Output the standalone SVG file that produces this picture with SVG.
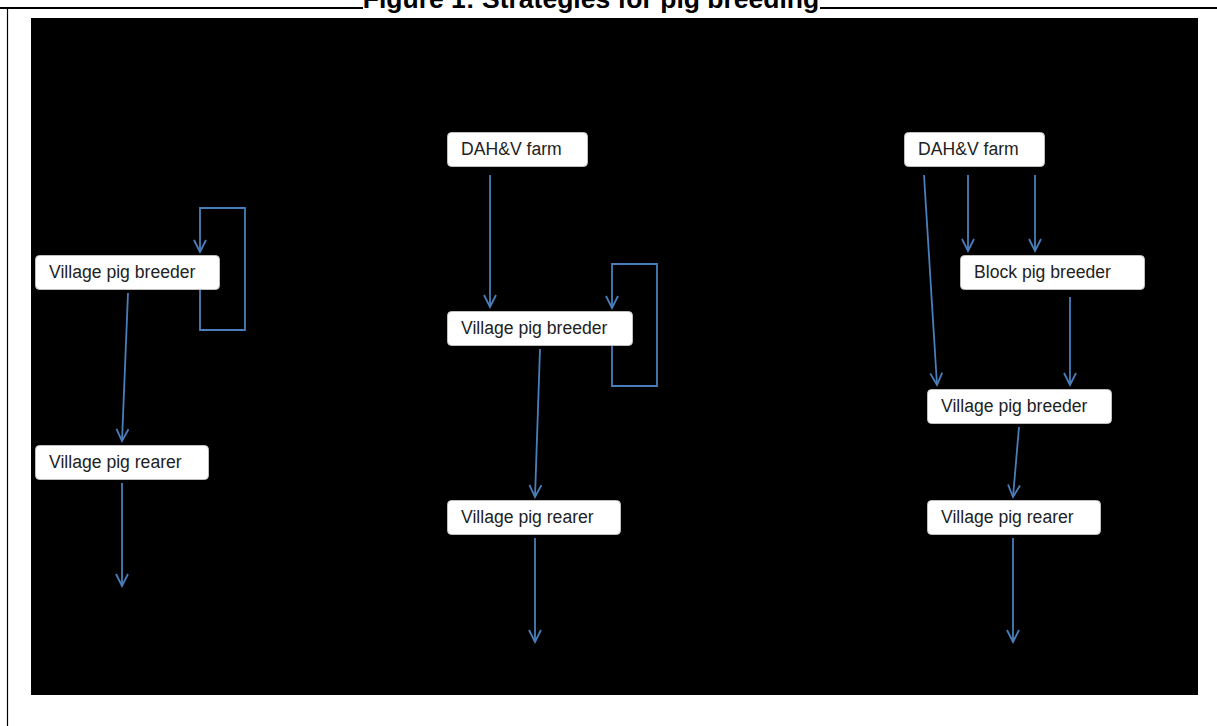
<svg xmlns="http://www.w3.org/2000/svg" width="1217" height="726" viewBox="0 0 1217 726">
  <defs>
    <marker id="arrow" markerUnits="userSpaceOnUse" markerWidth="16" markerHeight="16" refX="13" refY="7" orient="auto">
      <path d="M1,1 L13,7 L1,13" fill="none" stroke="#4a7ebb" stroke-width="1.8"/>
    </marker>
    <style>
      .frame { stroke: #000; fill: none; }
      .node rect { fill: #fff; stroke: #bfbfbf; stroke-width: 1; }
      .node text { font-family: "Liberation Sans", Arial, sans-serif; font-size: 17.6px; fill: #222; }
      .link { fill: none; stroke: #4a7ebb; stroke-width: 1.8; marker-end: url(#arrow); }
      .title { font-family: "Liberation Sans", Arial, sans-serif; font-weight: bold; font-size: 26.5px; fill: #000; }
    </style>
  </defs>

  <rect width="1217" height="726" fill="#fff"/>

  <!-- page frame with the caption sitting on its top edge -->
  <line class="frame" x1="0" y1="8" x2="363" y2="8" stroke-width="2"/>
  <line class="frame" x1="820" y1="8" x2="1217" y2="8" stroke-width="2"/>
  <line class="frame" x1="7.5" y1="8" x2="7.5" y2="726" stroke-width="1.2"/>
  <text class="title" x="591" y="7.5" text-anchor="middle">Figure 1: Strategies for pig breeding</text>

  <!-- drawing area -->
  <rect x="31" y="18" width="1167" height="677" fill="#000"/>

  <!-- connectors -->
  <g id="connectors">
    <!-- strategy 1 -->
    <path class="link" d="M200,287 V330 H245 V208 H200 V252"/>
    <path class="link" d="M128,293 L122,441"/>
    <path class="link" d="M122,483 V586"/>
    <!-- strategy 2 -->
    <path class="link" d="M490,175 V307"/>
    <path class="link" d="M612,342 V386 H657 V264 H612 V308"/>
    <path class="link" d="M540,349 L535,497"/>
    <path class="link" d="M535,538 V642"/>
    <!-- strategy 3 -->
    <path class="link" d="M924,175 L937,385"/>
    <path class="link" d="M968,175 V251"/>
    <path class="link" d="M1035,175 V251"/>
    <path class="link" d="M1070,297 V385"/>
    <path class="link" d="M1019,427 L1013,497"/>
    <path class="link" d="M1013,538 V642"/>
  </g>

  <!-- strategy 1 nodes -->
  <g id="s1-breeder" class="node">
    <rect x="35.5" y="255.5" width="184" height="34" rx="4"/>
    <text x="49" y="278">Village pig breeder</text>
  </g>
  <g id="s1-rearer" class="node">
    <rect x="35.5" y="445.5" width="173" height="34" rx="4"/>
    <text x="49" y="468">Village pig rearer</text>
  </g>

  <!-- strategy 2 nodes -->
  <g id="s2-farm" class="node">
    <rect x="447.5" y="132.5" width="140" height="34" rx="4"/>
    <text x="461" y="155">DAH&amp;V farm</text>
  </g>
  <g id="s2-breeder" class="node">
    <rect x="447.5" y="311.5" width="185" height="34" rx="4"/>
    <text x="461" y="334">Village pig breeder</text>
  </g>
  <g id="s2-rearer" class="node">
    <rect x="447.5" y="500.5" width="173" height="34" rx="4"/>
    <text x="461" y="523">Village pig rearer</text>
  </g>

  <!-- strategy 3 nodes -->
  <g id="s3-farm" class="node">
    <rect x="904.5" y="132.5" width="140" height="34" rx="4"/>
    <text x="918" y="155">DAH&amp;V farm</text>
  </g>
  <g id="s3-block" class="node">
    <rect x="960.5" y="255.5" width="184" height="34" rx="4"/>
    <text x="974" y="278">Block pig breeder</text>
  </g>
  <g id="s3-breeder" class="node">
    <rect x="927.5" y="389.5" width="184" height="34" rx="4"/>
    <text x="941" y="412">Village pig breeder</text>
  </g>
  <g id="s3-rearer" class="node">
    <rect x="927.5" y="500.5" width="173" height="34" rx="4"/>
    <text x="941" y="523">Village pig rearer</text>
  </g>
</svg>
